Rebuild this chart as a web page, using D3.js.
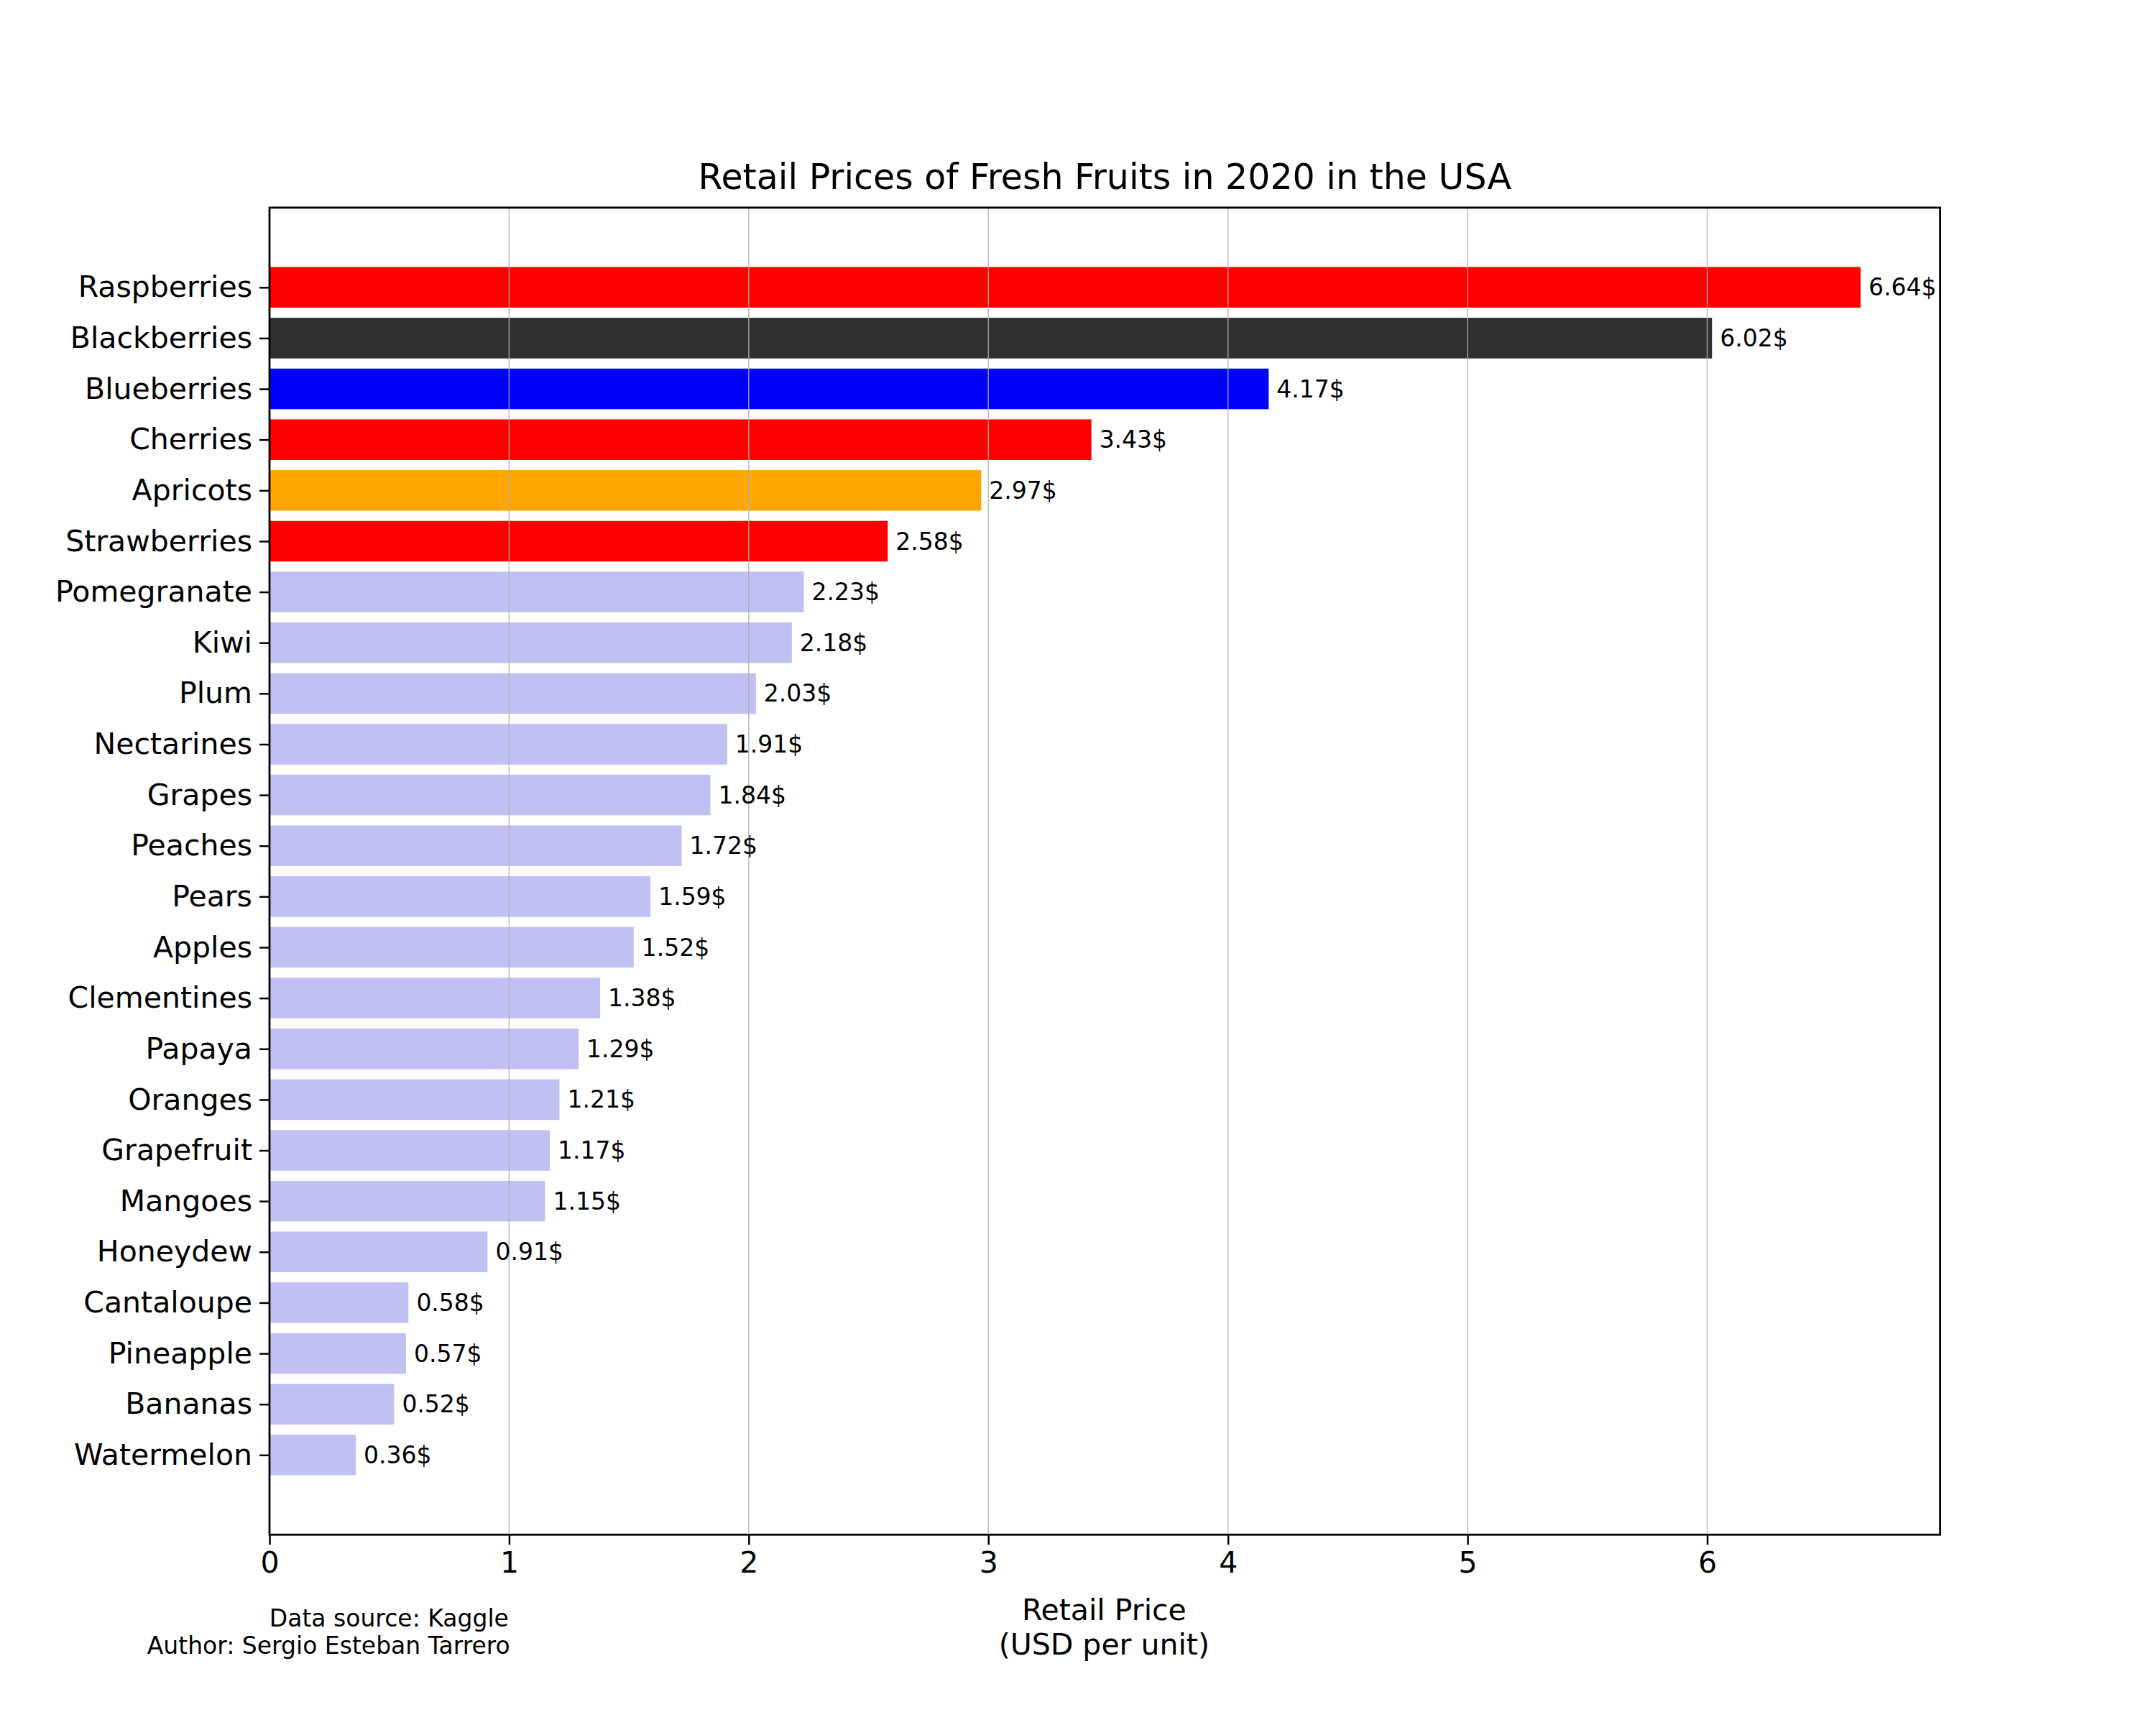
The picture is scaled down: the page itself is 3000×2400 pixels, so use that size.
<!DOCTYPE html><html><head><meta charset="utf-8"><script src="https://cdn.jsdelivr.net/npm/d3@7"></script>
<style>body{margin:0;background:#fff}text{font-family:"DejaVu Sans",sans-serif}</style></head><body><svg id="c" width="3000" height="2400"></svg>
<script>
const fruits=["Raspberries","Blackberries","Blueberries","Cherries","Apricots","Strawberries","Pomegranate","Kiwi","Plum","Nectarines","Grapes","Peaches","Pears","Apples","Clementines","Papaya","Oranges","Grapefruit","Mangoes","Honeydew","Cantaloupe","Pineapple","Bananas","Watermelon"];
const prices=[6.64,6.02,4.17,3.43,2.97,2.58,2.23,2.18,2.03,1.91,1.84,1.72,1.59,1.52,1.38,1.29,1.21,1.17,1.15,0.91,0.58,0.57,0.52,0.36];
const colors=["#ff0000","#303030","#0000ff","#ff0000","#ffa500","#ff0000"];
const other="#c0c0f2";
const xTicks=[0,1,2,3,4,5,6];
const s=3000/1568;
const L=196*s,R=1411*s,T=151*s,B=1116*s;
const svg=d3.select("#c");
const x=d3.scaleLinear().domain([0,6.972]).range([L,R]);
const n=fruits.length;
const y=d3.scaleLinear().domain([-1.57,n-1+1.57]).range([T,B]);
const bh=(y(1)-y(0))*0.8;
svg.selectAll("rect.b").data(fruits).join("rect").attr("x",x(0)).attr("y",(d,i)=>y(i)-bh/2)
 .attr("width",(d,i)=>x(prices[i])-x(0)).attr("height",bh).attr("fill",(d,i)=>colors[i]||other);
svg.selectAll("line.g").data(xTicks.slice(1)).join("line").attr("x1",d=>x(d)).attr("x2",d=>x(d)).attr("y1",T).attr("y2",B).attr("stroke","#b0b0b0").attr("stroke-width",1.6).attr("opacity",0.8);
svg.selectAll("text.v").data(prices).join("text").attr("x",d=>x(d)+11).attr("y",(d,i)=>y(i)).attr("dy","0.35em").attr("font-size",33).text(d=>d.toFixed(2)+"$");
svg.append("rect").attr("x",L).attr("y",T).attr("width",R-L).attr("height",B-T).attr("fill","none").attr("stroke","#000").attr("stroke-width",2.8);
const xa=svg.append("g").attr("transform",`translate(0,${B})`).call(d3.axisBottom(x).tickValues(xTicks).tickFormat(d3.format("d")).tickSize(14).tickPadding(10));
xa.select(".domain").remove();xa.selectAll("text").attr("font-size",41).attr("font-family","DejaVu Sans");xa.selectAll("line").attr("stroke-width",2.5);
const ya=svg.append("g").attr("transform",`translate(${L},0)`).call(d3.axisLeft(y).tickValues(d3.range(n)).tickFormat(i=>fruits[i]).tickSize(14).tickPadding(10));
ya.select(".domain").remove();ya.selectAll("text").attr("font-size",41).attr("font-family","DejaVu Sans");ya.selectAll("line").attr("stroke-width",2.5);
svg.append("text").attr("x",(L+R)/2).attr("y",130*s+14).attr("text-anchor","middle").attr("font-size",49).text("Retail Prices of Fresh Fruits in 2020 in the USA");
svg.append("text").attr("x",803*s).attr("y",1171*s+14).attr("text-anchor","middle").attr("font-size",41).text("Retail Price");
svg.append("text").attr("x",803*s).attr("y",1196*s+14).attr("text-anchor","middle").attr("font-size",41).text("(USD per unit)");
svg.append("text").attr("x",370*s).attr("y",1177*s+11).attr("text-anchor","end").attr("font-size",33).text("Data source: Kaggle");
svg.append("text").attr("x",371*s).attr("y",1197*s+11).attr("text-anchor","end").attr("font-size",33).text("Author: Sergio Esteban Tarrero");
</script></body></html>
